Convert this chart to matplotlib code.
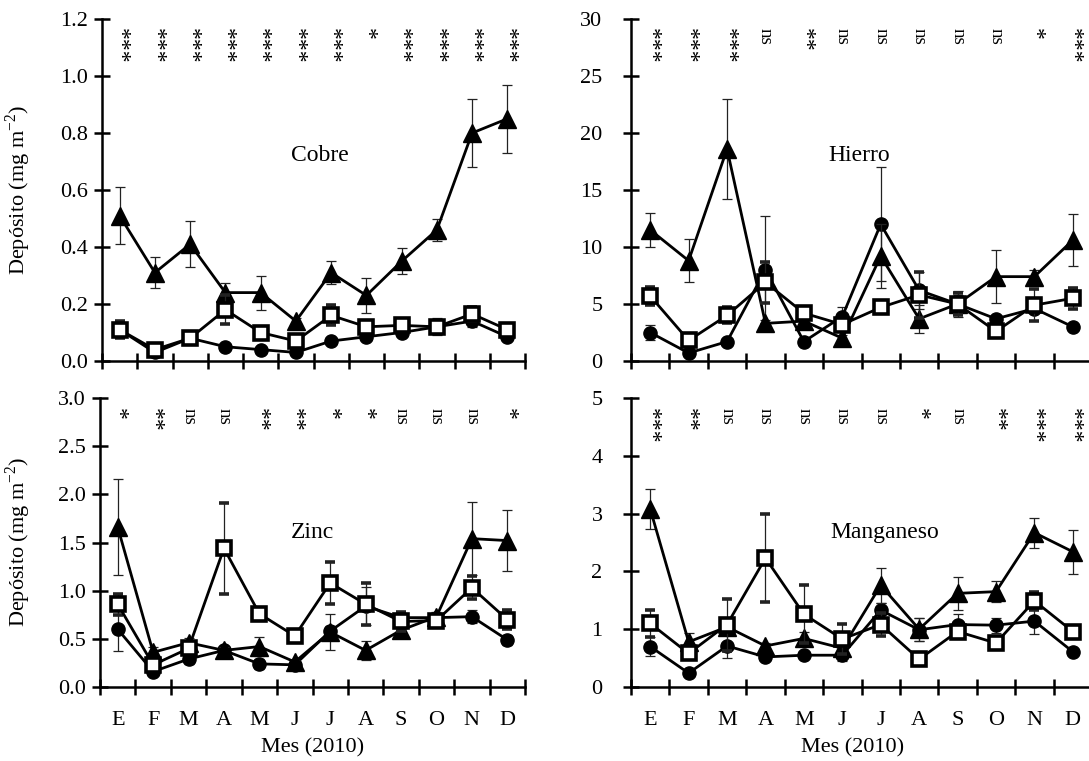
import numpy as np
import matplotlib
matplotlib.use("Agg")
import matplotlib.pyplot as plt

plt.rcParams['font.family'] = ['Liberation Serif', 'DejaVu Serif']
plt.rcParams['mathtext.fontset'] = 'custom'
plt.rcParams['mathtext.rm'] = 'Liberation Serif'

meses = ["E", "F", "M", "A", "M", "J", "J", "A", "S", "O", "N", "D"]

# Cobre
cu_tri = [0.51, 0.31, 0.41, 0.24, 0.24, 0.14, 0.31, 0.23, 0.35, 0.46, 0.80, 0.85]
cu_tri_se = [0.10, 0.055, 0.08, 0.035, 0.06, 0.01, 0.04, 0.06, 0.045, 0.04, 0.12, 0.12]
cu_sq = [0.11, 0.04, 0.08, 0.18, 0.10, 0.07, 0.16, 0.12, 0.125, 0.12, 0.165, 0.11]
cu_sq_se = [0.03, 0.01, 0.01, 0.05, 0.01, 0.01, 0.035, 0.01, 0.01, 0.02, 0.025, 0.01]
cu_circ = [0.11, 0.03, 0.08, 0.05, 0.04, 0.03, 0.07, 0.085, 0.10, 0.12, 0.14, 0.085]
cu_circ_se = [0.02, 0.005, 0.005, 0.005, 0.005, 0.005, 0.01, 0.01, 0.01, 0.03, 0.02, 0.01]
cu_sig = ["***", "***", "***", "***", "***", "***", "***", "*", "***", "***", "***", "***"]

# Hierro
fe_tri = [11.5, 8.8, 18.6, 3.3, 3.5, 2.0, 9.2, 3.7, 5.0, 7.4, 7.4, 10.6]
fe_tri_se = [1.5, 1.9, 4.4, 0.3, 0.6, 0.3, 2.8, 1.2, 0.8, 2.3, 0.6, 2.3]
fe_sq = [5.7, 1.8, 4.0, 6.9, 4.2, 3.2, 4.7, 5.8, 5.0, 2.6, 4.9, 5.5]
fe_sq_se = [0.8, 0.3, 0.7, 1.8, 0.5, 0.5, 0.3, 2.0, 1.0, 0.3, 1.4, 0.9]
fe_circ = [2.5, 0.7, 1.7, 8.0, 1.7, 3.9, 12.0, 6.2, 5.0, 3.7, 4.6, 3.0]
fe_circ_se = [0.7, 0.2, 0.2, 4.7, 0.2, 0.8, 5.0, 1.6, 1.1, 0.3, 0.4, 0.2]
fe_sig = ["***", "***", "***", "ns", "**", "ns", "ns", "ns", "ns", "ns", "*", "***"]

# Zinc
zn_tri = [1.66, 0.36, 0.46, 0.38, 0.42, 0.26, 0.57, 0.38, 0.59, 0.73, 1.54, 1.52]
zn_tri_se = [0.50, 0.06, 0.05, 0.04, 0.10, 0.02, 0.19, 0.10, 0.05, 0.05, 0.38, 0.32]
zn_sq = [0.86, 0.23, 0.40, 1.44, 0.76, 0.53, 1.08, 0.86, 0.68, 0.69, 1.03, 0.70]
zn_sq_se = [0.11, 0.04, 0.05, 0.47, 0.06, 0.03, 0.22, 0.22, 0.10, 0.05, 0.12, 0.10]
zn_circ = [0.60, 0.16, 0.29, 0.38, 0.24, 0.23, 0.58, 0.84, 0.72, 0.72, 0.73, 0.49]
zn_circ_se = [0.23, 0.03, 0.05, 0.04, 0.05, 0.02, 0.05, 0.20, 0.05, 0.05, 0.07, 0.05]
zn_sig = ["*", "**", "ns", "ns", "**", "**", "*", "*", "ns", "ns", "ns", "*"]

# Manganeso
mn_tri = [3.08, 0.78, 1.04, 0.71, 0.84, 0.67, 1.76, 1.00, 1.62, 1.65, 2.67, 2.34]
mn_tri_se = [0.35, 0.15, 0.10, 0.05, 0.12, 0.05, 0.30, 0.20, 0.28, 0.18, 0.26, 0.38]
mn_sq = [1.10, 0.58, 1.08, 2.23, 1.26, 0.83, 1.08, 0.48, 0.96, 0.76, 1.49, 0.96]
mn_sq_se = [0.24, 0.10, 0.45, 0.76, 0.50, 0.26, 0.20, 0.05, 0.10, 0.05, 0.15, 0.05]
mn_circ = [0.70, 0.24, 0.71, 0.52, 0.55, 0.55, 1.33, 0.99, 1.08, 1.07, 1.14, 0.61]
mn_circ_se = [0.17, 0.05, 0.20, 0.05, 0.05, 0.10, 0.13, 0.20, 0.18, 0.13, 0.22, 0.03]
mn_sig = ["***", "**", "ns", "ns", "ns", "ns", "ns", "*", "ns", "**", "***", "***"]

W, H = 1089, 761
fig = plt.figure(figsize=(W / 100, H / 100), dpi=100)


def px_axes(x0, x1, ytop, ybot):
    return fig.add_axes([x0 / W, 1 - ybot / H, (x1 - x0) / W, (ybot - ytop) / H])


def panel(ax, tri, tri_se, sq, sq_se, circ, circ_se, sig, ymax, ystep, fmt,
          name, name_xy, sig_y, show_months, ypad):
    x = np.arange(len(meses))
    ekw = dict(ecolor="#222222", elinewidth=0.9, capsize=3.5, capthick=0.9)
    ax.errorbar(x, circ, yerr=circ_se, fmt="-o", color="black", lw=2,
                ms=9.5, mfc="black", mec="black", zorder=3, **ekw)
    ax.errorbar(x, tri, yerr=tri_se, fmt="-^", color="black", lw=2,
                ms=12.5, mfc="black", mec="black", zorder=4, **ekw)
    ax.errorbar(x, sq, yerr=sq_se, fmt="-s", color="black", lw=2,
                ms=9.5, mfc="white", mec="black", mew=2.6, zorder=5, **ekw)

    ax.set_xlim(-0.5, len(meses) - 0.5)
    ax.set_ylim(0, ymax)
    yt = np.arange(0, ymax + ystep / 2, ystep)
    ax.set_yticks(yt)
    ax.set_yticklabels([fmt.format(v) for v in yt])
    ax.set_xticks(np.arange(-0.5, len(meses), 1.0))
    ax.set_xticklabels([])
    ax.set_xticks(x, minor=True)
    if show_months:
        ax.set_xticklabels(meses, minor=True)
    else:
        ax.set_xticklabels([], minor=True)

    for s in ["top", "right"]:
        ax.spines[s].set_visible(False)
    for s in ["left", "bottom"]:
        ax.spines[s].set_linewidth(1.8)
    ax.tick_params(axis="both", which="major", direction="inout", length=11,
                   width=1.8, labelsize=16)
    ax.tick_params(axis="y", pad=ypad)
    ax.tick_params(axis="x", which="minor", length=0, pad=17, labelsize=16)
    ax.patch.set_visible(False)

    ax.text(name_xy[0], name_xy[1], name, transform=ax.transAxes,
            ha="center", va="center", fontsize=17)

    # significance marks, written vertically above each month
    tr = ax.get_xaxis_transform()
    for i, s in enumerate(sig):
        fs = 13.5 if s == "ns" else 17
        ax.text(i, sig_y, s, transform=tr, rotation=270, ha="center",
                va="top", fontsize=fs)


ax1 = px_axes(102, 525, 19, 361)
panel(ax1, cu_tri, cu_tri_se, cu_sq, cu_sq_se, cu_circ, cu_circ_se, cu_sig,
      1.2, 0.2, "{:.1f}", "Cobre", (0.515, 0.60), 0.975, False, 4.5)

ax2 = px_axes(631, 1092, 19, 361)
panel(ax2, fe_tri, fe_tri_se, fe_sq, fe_sq_se, fe_circ, fe_circ_se, fe_sig,
      30, 5, "{:.0f}", "Hierro", (0.495, 0.60), 0.975, False, 15)

ax3 = px_axes(100, 525, 398, 687)
panel(ax3, zn_tri, zn_tri_se, zn_sq, zn_sq_se, zn_circ, zn_circ_se, zn_sig,
      3.0, 0.5, "{:.1f}", "Zinc", (0.50, 0.533), 0.965, True, 4.5)

ax4 = px_axes(631, 1092, 398, 687)
panel(ax4, mn_tri, mn_tri_se, mn_sq, mn_sq_se, mn_circ, mn_circ_se, mn_sig,
      5, 1, "{:.0f}", "Manganeso", (0.55, 0.533), 0.965, True, 15)

for ax, xc in [(ax3, 0.5), (ax4, 0.48)]:
    ax.text(xc, -0.21, "Mes (2010)", transform=ax.transAxes, ha="center",
            va="center", fontsize=16)

ylab = "Depósito (mg m$^{-2}$)"
fig.text(18 / W, 1 - 190 / H, ylab, rotation=90, ha="center", va="center",
         fontsize=16)
fig.text(18 / W, 1 - 542 / H, ylab, rotation=90, ha="center", va="center",
         fontsize=16)

fig.savefig("out.png", dpi=100)
